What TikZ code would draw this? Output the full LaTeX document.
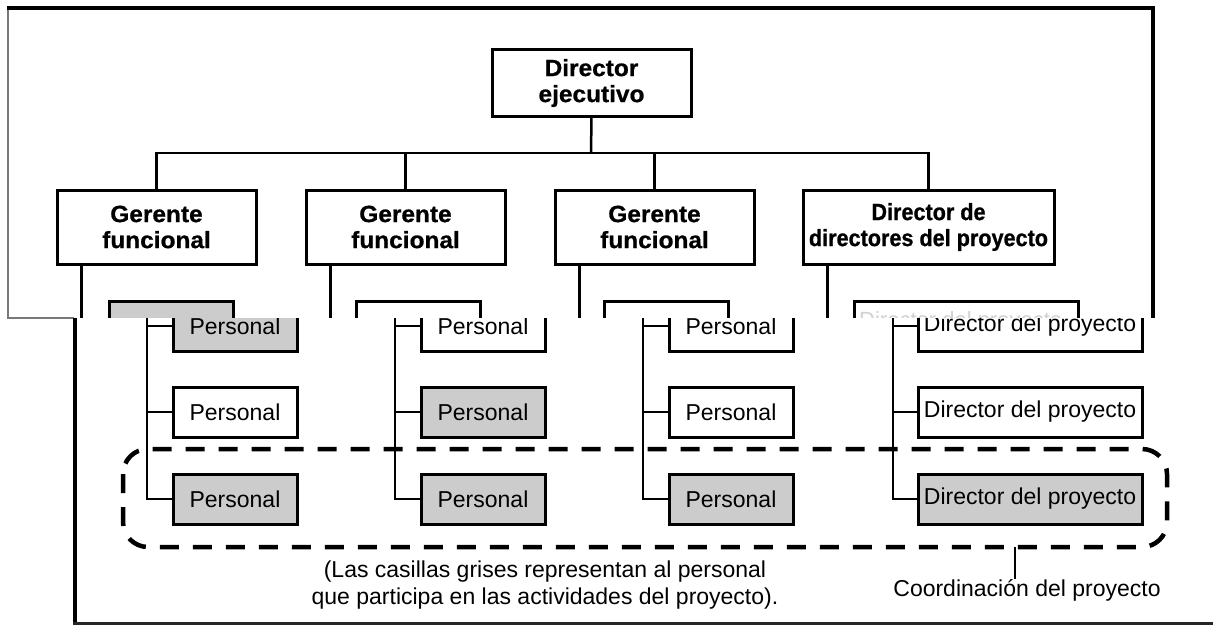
\documentclass[tikz,border=0pt]{standalone}
\usepackage{fontspec}
\setmainfont{Liberation Sans}
\newfontfamily\headfont[FakeStretch=1.04, FakeBold=0.8]{Liberation Sans}
\newfontfamily\headnarrow[FakeStretch=0.92, FakeBold=0.8]{Liberation Sans}
\definecolor{boxgray}{RGB}{204,204,204}
\definecolor{edgegray}{RGB}{120,120,120}
\begin{document}
\begin{tikzpicture}[x=1pt,y=-1pt,
  wire/.style={line width=2.5pt},
  topbox/.style={draw, line width=3pt, fill=white, minimum width=199pt, minimum height=74pt,
    inner sep=0pt, align=center, font=\headfont\fontsize{23.5}{26}\selectfont\bfseries},
  stubbox/.style={draw, line width=2.5pt, fill=white, minimum width=124pt, minimum height=50pt,
    inner sep=0pt, anchor=north west},
  staffbox/.style={draw, line width=3pt, fill=white, minimum width=124pt, minimum height=50pt,
    inner sep=0pt, font=\fontsize{23}{27}\selectfont},
  pmbox/.style={staffbox, minimum width=224pt},
  shaded/.style={fill=boxgray},
  group/.style={line width=4.5pt, dash pattern=on 19pt off 14pt, rounded corners=25pt},
  label/.style={inner sep=0pt, align=center, font=\fontsize{23}{27}\selectfont},
]
\useasboundingbox (0,0) rectangle (1213,626);
\fill[white] (0,0) rectangle (1213,626);

% ---------- upper panel: executive level ----------
\draw[edgegray, line width=1.5pt] (8,8) -- (8,318) -- (74,318);
\draw[line width=4pt] (7,8) -- (1153,8) -- (1153,318);

\node[topbox, minimum height=66pt] (ceo) at (591.5,83) {Director\\ejecutivo};
\node[topbox] (g1) at (156.5,227) {Gerente\\funcional};
\node[topbox] (g2) at (405.5,227) {Gerente\\funcional};
\node[topbox] (g3) at (654.5,227) {Gerente\\funcional};
\node[topbox, minimum width=251pt, font=\headnarrow\fontsize{23.5}{26}\selectfont\bfseries] (g4) at (928.5,227) {Director de\\directores del proyecto};

\coordinate (bus) at (591,153);
\draw[wire] (ceo.south) -- (bus);
\draw[wire] (g1.north) |- (bus) -| (g4.north);
\draw[wire] (g2.north) -- (g2.north |- bus);
\draw[wire] (g3.north) -- (g3.north |- bus);

% first subordinate boxes of the upper panel (mostly hidden below)
\node[stubbox, fill=boxgray] (s1) at (108,300) {};
\node[stubbox] (s2) at (355,300) {};
\node[stubbox] (s3) at (603,300) {};
\node[stubbox, minimum width=224pt] (s4) at (853,300) {};
\node[anchor=base west, inner sep=0pt, text=black!18, font=\fontsize{22}{26}\selectfont] (s4t) at (859,327) {Director del proyecto};
\draw[wire] ([xshift=26pt]g1.south west) -- ++(0,80);
\draw[wire] ([xshift=26pt]g2.south west) -- ++(0,80);
\draw[wire] ([xshift=26pt]g3.south west) -- ++(0,80);
\draw[wire] ([xshift=26pt]g4.south west) -- ++(0,80);

% ---------- lower panel: staff level ----------
\fill[white] (73,318) rectangle (1213,626);
\draw[line width=4pt] (75,318) -- (75,624);
\draw[black!85, line width=3pt] (73,623.5) -- (1213,623.5);

\begin{scope}
\clip (77,318) rectangle (1213,621);

% project coordination group
\draw[group] (123,449) rectangle (1167,547);

\node[staffbox, shaded] (p11) at (235,326) {Personal};
\node[staffbox]         (p12) at (235,412) {Personal};
\node[staffbox, shaded] (p13) at (235,499) {Personal};

\node[staffbox]         (p21) at (483,326) {Personal};
\node[staffbox, shaded] (p22) at (483,412) {Personal};
\node[staffbox, shaded] (p23) at (483,499) {Personal};

\node[staffbox]         (p31) at (731,326) {Personal};
\node[staffbox]         (p32) at (731,412) {Personal};
\node[staffbox, shaded] (p33) at (731,499) {Personal};

\node[pmbox]         (d1) at (1030,326) {Director del proyecto};
\node[pmbox]         (d2) at (1030,412) {Director del proyecto};
\node[pmbox, shaded] (d3) at (1030,499) {Director del proyecto};

\coordinate (t1) at (147,310);
\coordinate (t2) at (395,310);
\coordinate (t3) at (643,310);
\coordinate (t4) at (893,310);

\draw[wire] (t1) |- (p13.west);
\draw[wire] (t1 |- p11.west) -- (p11.west);
\draw[wire] (t1 |- p12.west) -- (p12.west);

\draw[wire] (t2) |- (p23.west);
\draw[wire] (t2 |- p21.west) -- (p21.west);
\draw[wire] (t2 |- p22.west) -- (p22.west);

\draw[wire] (t3) |- (p33.west);
\draw[wire] (t3 |- p31.west) -- (p31.west);
\draw[wire] (t3 |- p32.west) -- (p32.west);

\draw[wire] (t4) |- (d3.west);
\draw[wire] (t4 |- d1.west) -- (d1.west);
\draw[wire] (t4 |- d2.west) -- (d2.west);

% notes
\node[label] (note) at (545,585) {(Las casillas grises representan al personal\\que participa en las actividades del proyecto).};
\node[label] (coord) at (1027,590) {Coordinación del proyecto};
\coordinate (tick) at (1015,547);
\draw[wire] (tick) -- (tick |- coord.north);
\end{scope}
\end{tikzpicture}
\end{document}
